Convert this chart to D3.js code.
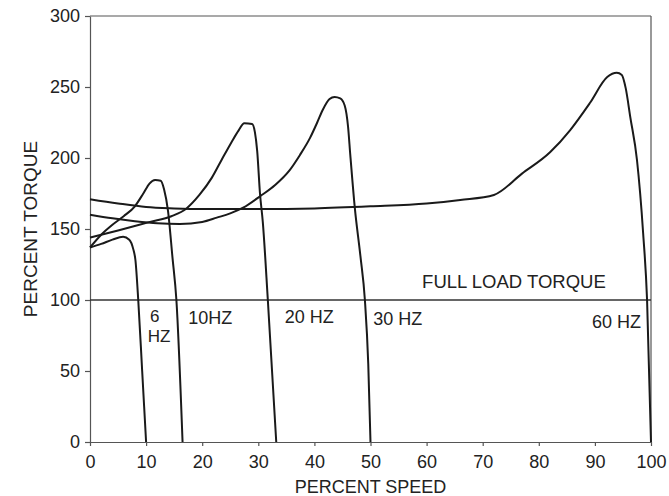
<!DOCTYPE html>
<html>
<head>
<meta charset="utf-8">
<script src="https://cdn.jsdelivr.net/npm/d3@7"></script>
<style>
  html, body { margin: 0; padding: 0; background: #fff; }
  #chart { width: 669px; height: 496px; }
  text { font-family: "Liberation Sans", Arial, Helvetica, sans-serif; fill: #222; }
</style>
</head>
<body>
<div id="chart"></div>
<script>
// speed (%) / torque (%), one array per frequency
const curva6hz = [[0, 137], [2, 139.5], [4, 142.5], [5.9, 144.5], [7, 142.5], [7.7, 136], [8.1, 128], [8.6, 100], [9.3, 50], [10, 0]];
const curva10hz = [[0, 137], [2, 146], [4, 153], [6, 159], [8, 166], [9.5, 175], [10.6, 182], [11.6, 184.5], [12.6, 184], [13.2, 178], [13.9, 163], [14.7, 130], [15.4, 100], [16.5, 0]];
const curva20hz = [[0, 144], [5, 149], [10.7, 155], [14.5, 159], [17.2, 164.5], [19.5, 174], [21.7, 186], [23.5, 199], [25.2, 211], [26.5, 219.5], [27.5, 224.5], [28.9, 224], [29.4, 218], [29.8, 205], [30.3, 175], [30.8, 155], [31.7, 100], [33.2, 0]];
const curva30hz = [[0, 160], [4, 157.5], [8, 155.5], [12, 154], [16, 153.5], [20, 155], [22.6, 158], [25, 161], [27.3, 165], [30.3, 173], [33, 181], [35.6, 191.5], [37.4, 202], [39.2, 214], [40.5, 225], [41.5, 234], [42.7, 241.5], [43.6, 243], [44.6, 242], [45.4, 237], [46, 222], [46.4, 202], [47.2, 165], [48.2, 131], [49, 100], [49.6, 55], [50, 0]];
const curva60hz = [[0, 171], [5, 168], [10, 165.5], [15, 164.5], [20, 164], [30, 164], [40, 164.5], [50, 166], [60, 168], [66, 170.5], [72, 174], [77, 189], [82, 204], [85.6, 219.7], [89.1, 238.7], [92.2, 257], [93.9, 260], [94.8, 258.5], [95.5, 249], [96.3, 229], [97.5, 198.6], [98.6, 147], [99.3, 100], [100, 0]];

const cargaPlena = 100;
const ticksX = [0, 10, 20, 30, 40, 50, 60, 70, 80, 90, 100];
const ticksY = [0, 50, 100, 150, 200, 250, 300];

// labels: text, speed, torque (baseline)
const etiquetas = [
  { texto: "FULL LOAD TORQUE", x: 59.2, y: 108.5, size: 18.5 },
  { texto: "6", x: 10.7, y: 84.5, size: 17 },
  { texto: "HZ", x: 10.3, y: 70.5, size: 17 },
  { texto: "10HZ", x: 17.5, y: 83, size: 18 },
  { texto: "20 HZ", x: 34.7, y: 84, size: 18 },
  { texto: "30 HZ", x: 50.5, y: 82.5, size: 18 },
  { texto: "60 HZ", x: 89.5, y: 80.5, size: 18 }
];

const width = 669;
const height = 496;
const margin = { top: 16, right: 18, bottom: 54, left: 90 };

const svg = d3.select("#chart").append("svg").attr("width", width).attr("height", height);

const xScale = d3.scaleLinear().domain([0, 100]).range([margin.left, width - margin.right]);
const yScale = d3.scaleLinear().domain([0, 300]).range([height - margin.bottom, margin.top]);

// frame top + right
svg.append("line").attr("x1", xScale(0)).attr("x2", xScale(100)).attr("y1", yScale(300)).attr("y2", yScale(300)).attr("stroke", "#555").attr("stroke-width", 1.2);
svg.append("line").attr("x1", xScale(100)).attr("x2", xScale(100)).attr("y1", yScale(300)).attr("y2", yScale(0)).attr("stroke", "#555").attr("stroke-width", 1.2);

const ejeX = svg.append("g").attr("transform", `translate(0, ${yScale(0)})`).call(d3.axisBottom(xScale).tickValues(ticksX).tickSize(4).tickPadding(9).tickSizeOuter(0));
const ejeY = svg.append("g").attr("transform", `translate(${xScale(0)},0)`).call(d3.axisLeft(yScale).tickValues(ticksY).tickSize(5).tickPadding(5).tickSizeOuter(0));
[ejeX, ejeY].forEach((g) => {
  g.select(".domain").attr("stroke", "#555").attr("stroke-width", 1.2);
  g.selectAll(".tick line").attr("stroke", "#555").attr("stroke-width", 1.2);
  g.selectAll("text").attr("font-size", 18).attr("font-family", null).attr("fill", "#222");
});

// full load torque
svg.append("line").attr("x1", xScale(0)).attr("x2", xScale(100)).attr("y1", yScale(cargaPlena)).attr("y2", yScale(cargaPlena)).attr("stroke", "#333").attr("stroke-width", 1.5);

const line = d3.line().x((d) => xScale(d[0])).y((d) => yScale(d[1])).curve(d3.curveMonotoneX);

[curva6hz, curva10hz, curva20hz, curva30hz, curva60hz].forEach((c) => {
  svg.append("path").datum(c).attr("fill", "none").attr("stroke", "#1a1a1a").attr("stroke-width", 2).attr("stroke-linejoin", "round").attr("d", line);
});

svg.selectAll("text.etiqueta").data(etiquetas).join("text").attr("class", "etiqueta").attr("x", (d) => xScale(d.x)).attr("y", (d) => yScale(d.y)).attr("font-size", (d) => d.size).text((d) => d.texto);

svg.append("text").attr("x", xScale(50)).attr("y", 493).attr("text-anchor", "middle").attr("font-size", 18).text("PERCENT SPEED");
svg.append("text").attr("transform", `translate(37, ${yScale(150)}) rotate(-90)`).attr("text-anchor", "middle").attr("font-size", 19).text("PERCENT TORQUE");
</script>
</body>
</html>
